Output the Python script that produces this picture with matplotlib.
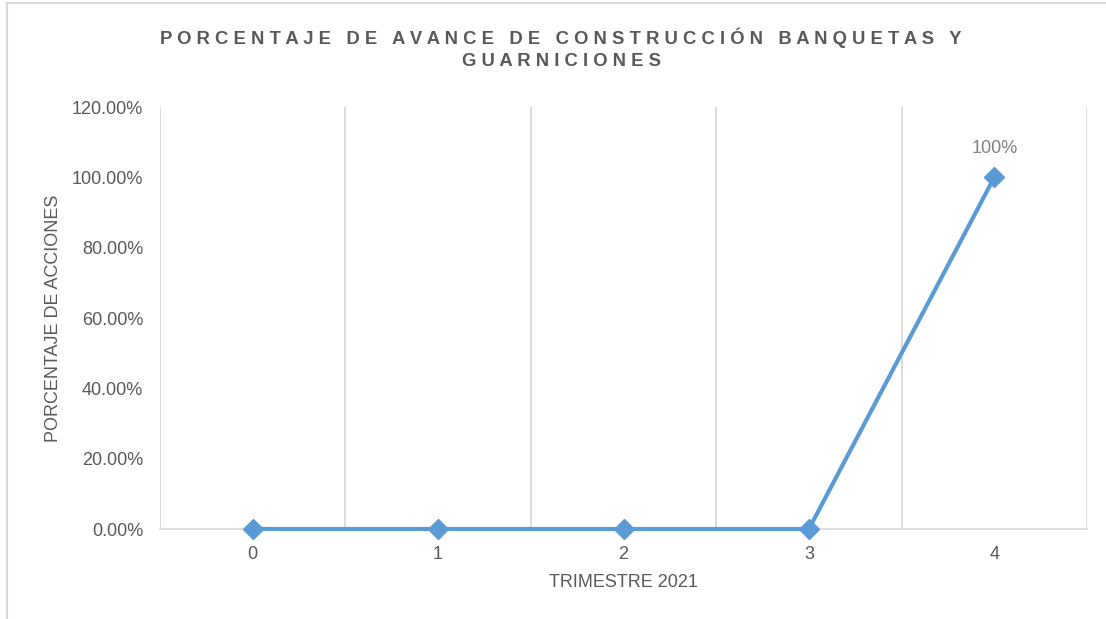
import matplotlib.pyplot as plt
from matplotlib.lines import Line2D
from matplotlib.ticker import FuncFormatter

# Data
trimestres = [0, 1, 2, 3, 4]
avance = [0.0, 0.0, 0.0, 0.0, 1.0]
y_ticks = [0.0, 0.2, 0.4, 0.6, 0.8, 1.0, 1.2]
etiqueta = "100%"

title_lines = ["PORCENTAJE DE AVANCE DE CONSTRUCCIÓN BANQUETAS Y", "GUARNICIONES"]

def spaced(s):
    # emulate letter spacing
    return "   ".join(" ".join(w) for w in s.split(" "))

plt.rcParams['font.family'] = ['Liberation Sans', 'DejaVu Sans']
gray = '#595959'
grid = '#D9D9D9'
blue = '#5B9BD5'

fig = plt.figure(figsize=(11.06, 6.19), dpi=100)
ax = fig.add_axes([160 / 1106, 1 - 529 / 619, (1087 - 160) / 1106, (529 - 107) / 619])

ax.plot(trimestres, avance, color=blue, lw=3, marker='D', markersize=10,
        solid_capstyle='round', zorder=3, clip_on=False)
ax.annotate(etiqueta, (trimestres[-1], avance[-1]), xytext=(0, 15), textcoords='offset points',
            ha='center', va='bottom', fontsize=13, color='#808080')

ax.set_xlim(-0.5, len(trimestres) - 0.5)
ax.set_ylim(0, 1.2)
ax.set_yticks(y_ticks)
ax.yaxis.set_major_formatter(FuncFormatter(lambda v, p: f"{v * 100:.2f}%"))
ax.set_xticks(trimestres)
ax.set_xticklabels([str(t) for t in trimestres])

# vertical grid at category boundaries
for b in range(len(trimestres) + 1):
    ax.axvline(b - 0.5, color=grid, lw=1.3, zorder=1)

for s in ['top', 'right', 'left']:
    ax.spines[s].set_visible(False)
ax.spines['bottom'].set_color(grid)
ax.spines['bottom'].set_linewidth(1.3)
ax.tick_params(axis='both', length=0, labelsize=13, labelcolor=gray)
ax.tick_params(axis='y', pad=12)
ax.tick_params(axis='x', pad=12)

ax.set_xlabel("TRIMESTRE 2021", fontsize=13, color=gray, labelpad=8)
ax.set_ylabel("PORCENTAJE DE ACCIONES", fontsize=13, color=gray, labelpad=7)

fig.text(561 / 1106, 1 - 38 / 619, spaced(title_lines[0]), ha='center', va='center',
         fontsize=13.3, fontweight='bold', color=gray)
fig.text(561 / 1106, 1 - 61 / 619, spaced(title_lines[1]), ha='center', va='center',
         fontsize=13.3, fontweight='bold', color=gray)

# chart area border
fig.add_artist(Line2D([7 / 1106, 7 / 1106], [0, 1 - 3 / 619], transform=fig.transFigure,
                      color=grid, lw=1.5))
fig.add_artist(Line2D([7 / 1106, 1], [1 - 3 / 619, 1 - 3 / 619], transform=fig.transFigure,
                      color=grid, lw=1.5))

fig.savefig("out.png", dpi=100)
